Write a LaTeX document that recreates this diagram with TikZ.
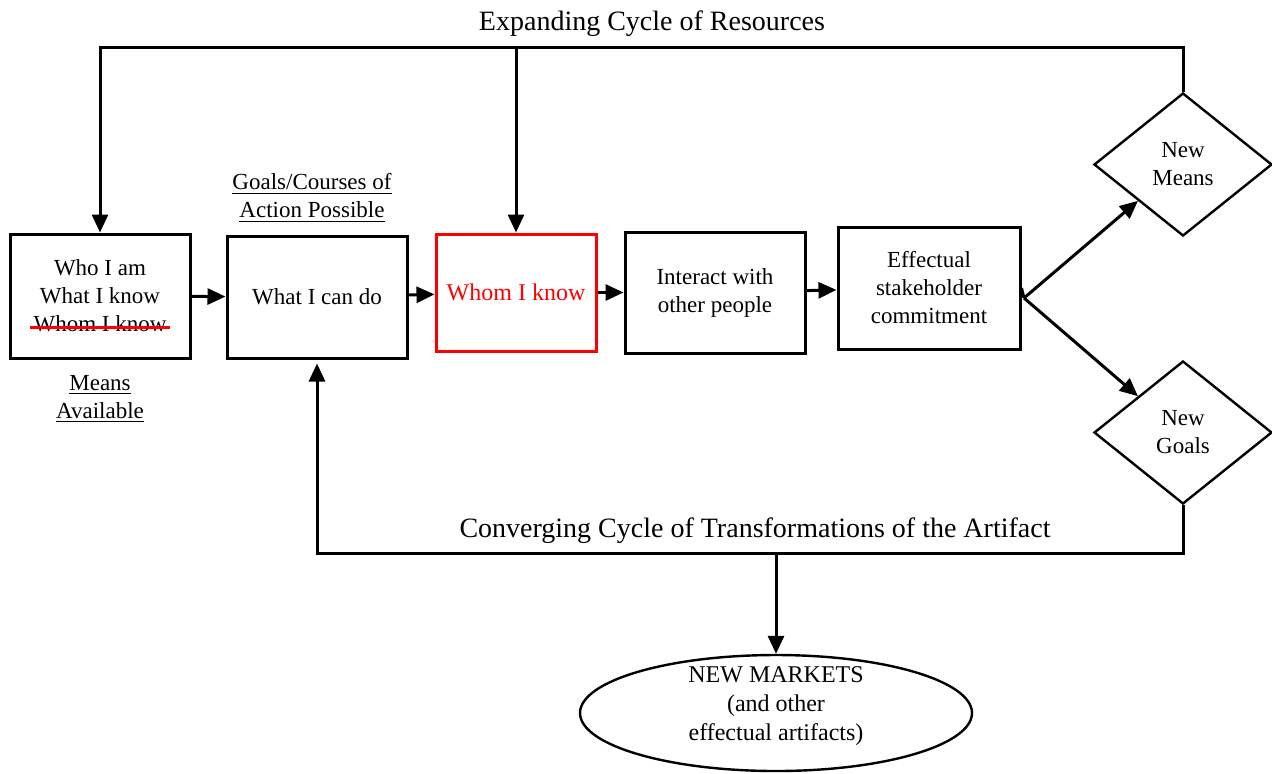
\documentclass[tikz,border=0pt]{standalone}
\usepackage{fontspec}
\setmainfont{Liberation Serif}
\usetikzlibrary{arrows.meta,shapes.geometric}

% struck-through text with a red bar drawn over it
\newcommand\redstrike[1]{\setbox0\hbox{#1}\copy0\llap{\color{red}\rule[0.28ex]{\dimexpr\wd0+4pt\relax}{1.6pt}\kern-2pt}}

\tikzset{
  body/.style={font=\fontsize{11.5}{14}\selectfont, align=center},
  box/.style={body, draw, line width=1.5pt, inner sep=2pt},
  choice/.style={body, draw, diamond, line width=1.2pt, inner sep=0pt,
    minimum width=89pt, minimum height=71.5pt},
  link/.style={line width=1.5pt},
  arr/.style={link, -{Triangle[length=9pt,width=8pt]}},
  heading/.style={font=\fontsize{14}{16}\selectfont},
  tag/.style={body}
}

\begin{document}
\begin{tikzpicture}[x=0.5pt, y=-0.5pt]
\useasboundingbox (0,0) rectangle (1272,773);

% main chain of boxes
\node[box, minimum width=90pt, minimum height=62pt] (who) at (100,296)
  {Who I am\\What I know\\\redstrike{Whom I know}};
\node[box, minimum width=90pt, minimum height=61pt] (can) at (317,297) {What I can do};
\node[box, draw=red, text=red, minimum width=80pt, minimum height=58.5pt,
  font=\fontsize{12}{14}\selectfont] (whom) at (516,292.5) {Whom I know};
\node[box, minimum width=90pt, minimum height=60.5pt] (inter) at (715,292.5)
  {Interact with\\other people};
\node[box, minimum width=91pt, minimum height=61pt] (commit) at (929,288)
  {Effectual\\stakeholder\\commitment};

% outcomes
\node[choice] (means) at (1183,164.5) {New\\Means};
\node[choice] (goals) at (1183,432.5) {New\\Goals};
\node[draw, ellipse, line width=1.2pt, minimum width=196pt, minimum height=58pt,
  inner sep=0pt] (mkt) at (776,713) {};
\node[align=center, font=\fontsize{12}{14.5}\selectfont, yshift=3.5pt] (mkttext) at (mkt.center)
  {NEW MARKETS\\(and other\\effectual artifacts)};

% labels
\node[heading] (exp) at (652,24) {Expanding Cycle of Resources};
\node[heading] (conv) at (755,531) {Converging Cycle of Transformations of the Artifact};
\node[tag] (goalslbl) at (312,198) {\underline{Goals/Courses of}\\\underline{Action Possible}};
\node[tag] (meanslbl) at (100,399) {\underline{Means}\\\underline{Available}};

% chain arrows
\draw[arr] (who) -- (can);
\draw[arr] (can) -- (whom);
\draw[arr] (whom) -- (inter);
\draw[arr] (inter) -- (commit);

% branching to new means and new goals
\coordinate (fork) at (1024,298);
\draw[link] (commit.east) -- (fork);
\draw[arr] (fork) -- (means.south west);
\draw[arr] (fork) -- (goals.north west);

% expanding cycle across the top
\coordinate (ytop) at (0,47);
\draw[arr] (means.north) |- (who.north |- ytop) -- (who.north);
\draw[arr] (whom.north |- ytop) -- (whom.north);

% converging cycle along the bottom
\coordinate (ybot) at (0,553);
\draw[arr, shorten >=2pt] (goals.south) |- (can.south |- ybot) -- (can.south);
\draw[arr] (mkt.north |- ybot) -- (mkt.north);
\end{tikzpicture}
\end{document}
